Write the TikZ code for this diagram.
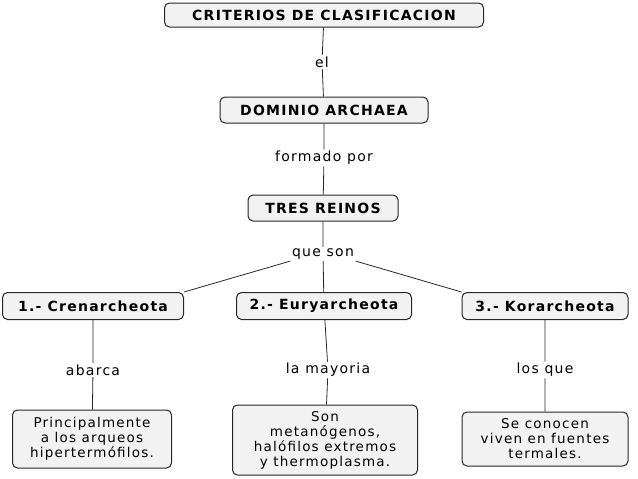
\documentclass[tikz,border=0pt]{standalone}
\usepackage{fontspec}
\setmainfont{DejaVu Sans}[LetterSpace=9]
\begin{document}
\begin{tikzpicture}[x=1pt,y=-1pt,
 box/.style={draw=black!85,line width=1pt,rounded corners=5pt,fill=blue!4!gray!10,align=center,font=\fontsize{13.5}{15}\selectfont,inner sep=0pt},
 bold/.style={box,font=\fontsize{14}{15}\selectfont\bfseries},
 lab/.style={fill=white,inner sep=1.5pt,font=\fontsize{14}{15}\selectfont},
 ln/.style={draw=black!85,line width=0.8pt}]
\useasboundingbox (0,0) rectangle (638,479);
\node[bold,minimum width=319,minimum height=24] (c) at (324,15) {CRITERIOS DE CLASIFICACION};
\node[lab] (el) at (322,62) {el};
\node[bold,minimum width=208,minimum height=26] (d) at (324,110) {DOMINIO ARCHAEA};
\node[lab] (f) at (324,158) {formado por};
\node[bold,minimum width=150,minimum height=26] (t) at (323,208) {TRES REINOS};
\node[lab] (q) at (323,254) {que son};
\node[bold,minimum width=181,minimum height=27] (k1) at (93,306) {1.- Crenarcheota};
\node[bold,minimum width=175,minimum height=27] (k2) at (324,306) {2.- Euryarcheota};
\node[bold,minimum width=166,minimum height=27] (k3) at (545,306) {3.- Korarcheota};
\node[lab] (a1) at (93,370) {abarca};
\node[lab] (a2) at (328,370) {la mayoria};
\node[lab] (a3) at (545,370) {los que};
\node[box,minimum width=159,minimum height=58] (b1) at (92,439) {Principalmente\\a los arqueos\\hipertermófilos.};
\node[box,minimum width=185,minimum height=70] (b2) at (325,440) {Son\\metanógenos,\\halófilos extremos\\y thermoplasma.};
\node[box,minimum width=166,minimum height=54] (b3) at (545,439) {Se conocen\\viven en fuentes\\termales.};
\draw[ln] (c)--(el) (el)--(d) (d)--(f) (f)--(t) (t)--(q);
\draw[ln] (q.south west)--(k1.north east) (q)--(k2) (q.south east)--(k3.north west);
\draw[ln] (k1)--(a1) (a1)--(b1) (k2)--(a2) (a2)--(b2) (k3)--(a3) (a3)--(b3);
\end{tikzpicture}
\end{document}
